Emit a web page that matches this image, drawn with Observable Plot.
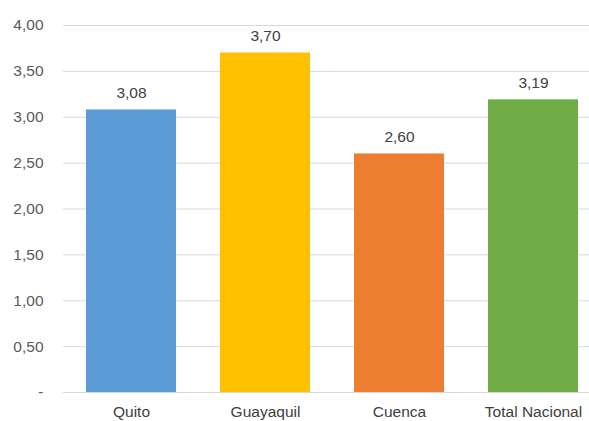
<!DOCTYPE html>
<html>
<head>
<meta charset="utf-8">
<script src="https://cdn.jsdelivr.net/npm/d3@7"></script>
<script src="https://cdn.jsdelivr.net/npm/@observablehq/plot@0.6"></script>
<style>
  html, body { margin: 0; padding: 0; background: #fff; }
  #chart { width: 589px; height: 421px; }
</style>
</head>
<body>
<div id="chart"></div>
<script>
const categories = ["Quito", "Guayaquil", "Cuenca", "Total Nacional"];
const values = [3.08, 3.70, 2.60, 3.19];
const colors = ["#5B9BD5", "#FFC000", "#ED7D31", "#70AD47"];
const yTicks = [0, 0.5, 1, 1.5, 2, 2.5, 3, 3.5, 4];

const data = categories.map((c, i) => ({category: c, value: values[i], color: colors[i]}));
const fmt = v => v === 0 ? "-" : v.toFixed(2).replace(".", ",");

const chart = Plot.plot({
  width: 589,
  height: 421,
  marginTop: 25,
  marginBottom: 29,
  marginLeft: 63,
  marginRight: 0,
  style: {fontFamily: "Liberation Sans, Arial, sans-serif", fontSize: "15.5px", color: "#595959", background: "#fff"},
  x: {domain: categories, range: [63, 601], paddingInner: 0.33, paddingOuter: 0.165, label: null},
  y: {domain: [0, 4], label: null},
  marks: [
    Plot.ruleY(yTicks, {stroke: "#d9d9d9", strokeWidth: 1}),
    Plot.barY(data, {x: "category", y: "value", fill: "color"}),
    Plot.text(data, {x: "category", y: "value", text: d => fmt(d.value), lineAnchor: "bottom", dy: -12, fill: "#404040", fontSize: 15.5}),
    Plot.axisY(yTicks, {tickFormat: fmt, tickSize: 0, tickPadding: 20, fill: "#595959", fontSize: 15.5}),
    Plot.axisX({tickSize: 0, tickPadding: 13, fill: "#404040", fontSize: 15.5})
  ]
});
document.getElementById("chart").appendChild(chart);
</script>
</body>
</html>
